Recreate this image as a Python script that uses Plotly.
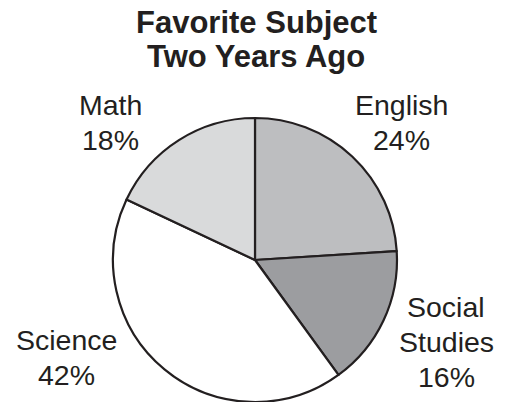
import plotly.graph_objects as go

# Favourite subject shares, clockwise from 12 o'clock
subjects = ["English", "Social<br>Studies", "Science", "Math"]
percents = [24, 16, 42, 18]
fills = ["#bdbec0", "#9c9da0", "#ffffff", "#d9dadb"]

# Label block placement: centre x and baseline of first text line (pixels)
label_x = [401, 446, 66, 110]
label_base = [115, 317, 350, 115]
LINE_GAP = 35

W, H = 505, 402
ink = "#231f20"
FONT = "Liberation Sans, Arial, sans-serif"

fig = go.Figure(
    go.Pie(
        labels=[s.replace("<br>", " ") for s in subjects],
        values=percents,
        sort=False,
        direction="clockwise",
        rotation=0,
        marker=dict(colors=fills, line=dict(color=ink, width=2.2)),
        textinfo="none",
        hoverinfo="label+percent",
        showlegend=False,
        domain=dict(x=[113 / W, 397 / W], y=[0, 284 / H]),
    )
)


def text_line(txt, cx, baseline, size):
    # place one line of text so its baseline lands at the given pixel row
    top = baseline - 0.965 * size
    return dict(
        text=txt,
        x=cx / W,
        y=1 - top / H,
        xref="paper",
        yref="paper",
        xanchor="center",
        yanchor="top",
        showarrow=False,
        font=dict(family=FONT, size=size, color=ink),
    )


annotations = []
for name, pct, lx, lb in zip(subjects, percents, label_x, label_base):
    lines = name.split("<br>") + [f"{pct}%"]
    for i, ln in enumerate(lines):
        annotations.append(text_line(ln, lx, lb + i * LINE_GAP, 28.5))

for i, ln in enumerate(["Favorite Subject", "Two Years Ago"]):
    annotations.append(text_line(f"<b>{ln}</b>", 256, 33 + i * 34, 31))

fig.update_layout(
    width=W,
    height=H,
    margin=dict(l=0, r=0, t=0, b=0),
    paper_bgcolor="white",
    plot_bgcolor="white",
    annotations=annotations,
)

fig.write_html("out.html")
